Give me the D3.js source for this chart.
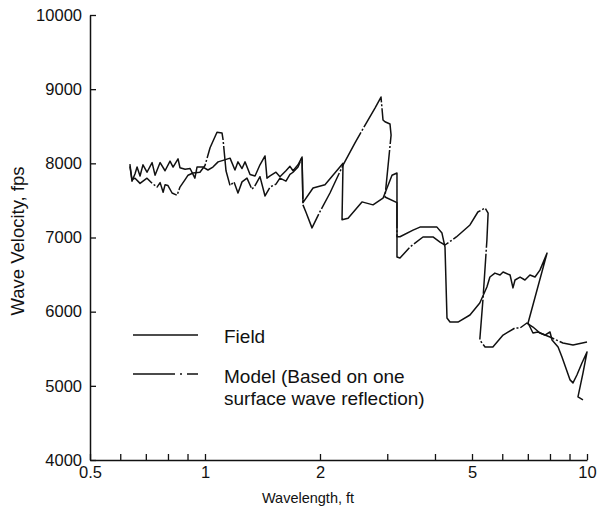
<!DOCTYPE html>
<html>
<head>
<meta charset="utf-8">
<script src="https://cdn.jsdelivr.net/npm/d3@7"></script>
<style>
  html, body { margin: 0; padding: 0; background: #fff; }
  svg { display: block; }
  text { font-family: "Liberation Sans", Arial, Helvetica, sans-serif; fill: #111; }
</style>
</head>
<body>
<svg id="chart" width="597" height="514"></svg>
<script>
// ---- data (wavelength in ft, velocity in fps) ----
const fieldWavelength = [0.636,0.644,0.656,0.664,0.676,0.688,0.705,0.727,0.740,0.763,0.786,0.810,0.825,0.850,0.860,0.887,0.914,0.941,0.953,0.988,1.018,1.049,1.082,1.115,1.163,1.198,1.220,1.250,1.273,1.312,1.352,1.393,1.436,1.453,1.480,1.534,1.571,1.629,1.669,1.700,1.752,1.795,
  1.805,1.918,2.061,2.298,2.284,2.369,2.576,2.753,2.924,3.087,3.181,3.181,3.239,3.504,3.654,4.048,4.172,4.249,4.300,4.379,4.595,4.939,5.24,5.47,5.57,5.74,5.92,6.03,6.29,6.40,6.48,6.68,6.88,7.09,7.31,7.53,7.86,
  7.01,7.22,7.44,7.76,8.00,8.10,8.40,8.60,9.03,9.19,9.41,9.70,10.0,9.76,9.47,9.76];
const fieldVelocity = [7990,7760,7860,7950,7830,7980,7880,8010,7840,8010,7900,8030,7950,8060,7940,7920,7930,7800,7950,7950,7910,7950,8020,8040,8070,7910,8020,7930,8020,7850,7830,7980,8100,7800,7830,7880,7820,7900,7960,7900,7980,8085,
  7470,7667,7710,8000,7240,7260,7480,7440,7530,7840,7870,7010,7010,7100,7140,7140,7060,6870,5915,5860,5860,5955,6117,6333,6467,6520,6494,6535,6494,6320,6427,6467,6427,6494,6467,6560,6790,
  5847,5712,5726,5685,5726,5618,5524,5390,5080,5040,5146,5308,5456,5170,4850,4810];

const modelWavelength = [0.636,0.644,0.656,0.676,0.705,0.727,0.749,0.763,0.777,0.786,0.800,0.820,0.845,0.860,0.887,0.903,0.930,0.970,1.000,1.031,1.075,1.108,1.115,1.135,1.163,1.191,1.220,1.250,1.288,1.327,1.352,1.393,1.436,1.480,1.534,1.571,1.629,1.669,1.700,1.752,1.795,
  1.805,1.838,1.906,2.000,2.124,2.298,2.470,2.655,2.786,2.889,2.924,2.959,3.050,3.070,2.959,3.181,3.181,3.239,3.441,3.721,3.952,4.123,4.249,4.550,4.939,5.18,5.41,5.51,5.47,5.34,5.24,5.41,5.67,6.03,6.48,6.68,6.96,7.22,7.53,8.00,8.65,9.19,10.0];
const modelVelocity = [7960,7780,7800,7730,7800,7730,7680,7740,7610,7710,7700,7600,7570,7680,7780,7840,7870,7880,7970,8210,8420,8410,8320,7900,7700,7750,7600,7750,7800,7650,7700,7820,7560,7680,7720,7800,7760,7850,7880,7950,8080,
  7440,7340,7130,7350,7600,7977,8275,8560,8745,8894,8585,8560,8530,8380,7546,7470,6737,6723,6872,7007,7007,6939,6899,7007,7169,7344,7398,7330,6966,6157,5618,5524,5524,5685,5780,5780,5847,5793,5712,5658,5577,5551,5590];

const yTicks = [4000,5000,6000,7000,8000,9000,10000];
const xTicks = [0.5,0.6,0.7,0.8,0.9,1,2,3,4,5,6,7,8,9,10];
const xTickLabels = ["0.5","1","2","5","10"];
const legendLabels = ["Field", "Model (Based on one", "surface wave reflection)"];
const xTitle = "Wavelength, ft";
const yTitle = "Wave Velocity, fps";

// ---- chart ----
const svg = d3.select("#chart");
const x = d3.scaleLog().domain([0.5, 10]).range([90, 587]);
const y = d3.scaleLinear().domain([4000, 10000]).range([460, 15]);

const fieldPts = fieldWavelength.map((w, i) => [w, fieldVelocity[i]]);
const modelPts = modelWavelength.map((w, i) => [w, modelVelocity[i]]);

const line = d3.line().x(d => x(d[0])).y(d => y(d[1]));

svg.append("path").datum(modelPts)
  .attr("d", line).attr("fill", "none").attr("stroke", "#111")
  .attr("stroke-width", 1.5).attr("stroke-linejoin", "round")
  .attr("stroke-dasharray", "40,2,2,2");

svg.append("path").datum(fieldPts)
  .attr("d", line).attr("fill", "none").attr("stroke", "#111")
  .attr("stroke-width", 1.5).attr("stroke-linejoin", "round");

// axes
const yAxis = d3.axisLeft(y).tickValues(yTicks).tickSize(-6).tickSizeOuter(0).tickPadding(8)
  .tickFormat(d3.format("d"));
const gy = svg.append("g").attr("transform", "translate(90,0)").call(yAxis);

const xAxis = d3.axisBottom(x).tickValues(xTicks).tickSize(-6).tickSizeOuter(0).tickPadding(6)
  .tickFormat(d => { const s = String(d); return xTickLabels.includes(s) ? s : ""; });
const gx = svg.append("g").attr("transform", "translate(0,460)").call(xAxis);

[gx, gy].forEach(g => {
  g.select(".domain").attr("stroke", "#111").attr("stroke-width", 1.5);
  g.selectAll(".tick line").attr("stroke", "#111").attr("stroke-width", 1.3);
  g.selectAll(".tick text").style("font-size", "16.5px").attr("fill", "#111");
});

// titles
svg.append("text").attr("x", 308).attr("y", 503).attr("text-anchor", "middle")
  .style("font-size", "14.5px").text(xTitle);
svg.append("text").attr("transform", "translate(24,241) rotate(-90)").attr("text-anchor", "middle")
  .style("font-size", "18.5px").text(yTitle);

// legend
svg.append("line").attr("x1", 133).attr("x2", 198).attr("y1", 335).attr("y2", 335)
  .attr("stroke", "#111").attr("stroke-width", 1.5);
svg.append("line").attr("x1", 133).attr("x2", 198).attr("y1", 374).attr("y2", 374)
  .attr("stroke", "#111").attr("stroke-width", 1.5).attr("stroke-dasharray", "42,5,2,5,11");
svg.append("text").attr("x", 224).attr("y", 343).style("font-size", "19px").text(legendLabels[0]);
svg.append("text").attr("x", 224).attr("y", 383).style("font-size", "19px").text(legendLabels[1]);
svg.append("text").attr("x", 224).attr("y", 405).style("font-size", "19px").text(legendLabels[2]);
</script>
</body>
</html>
